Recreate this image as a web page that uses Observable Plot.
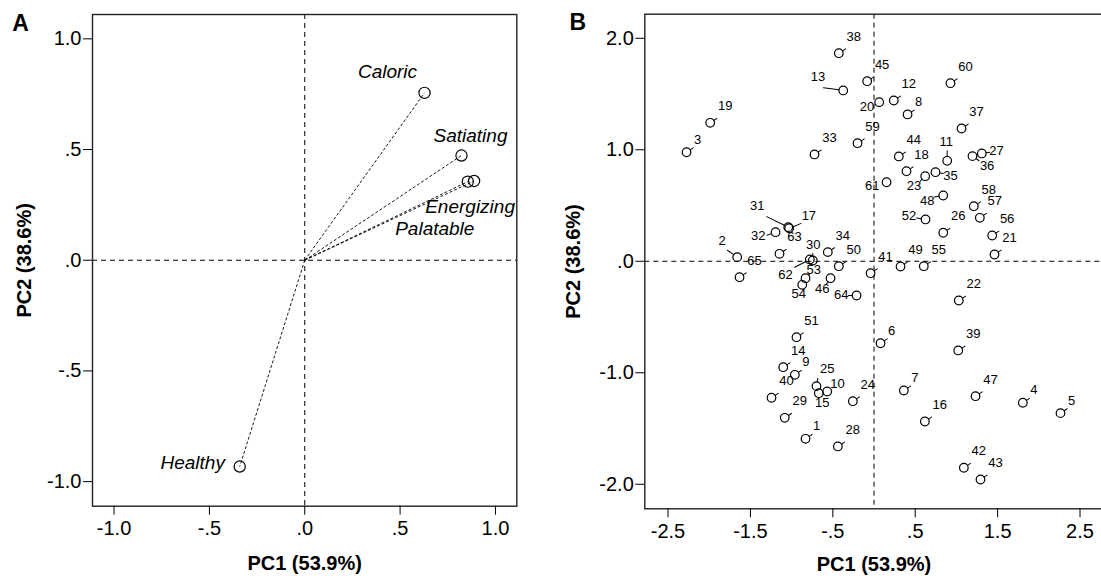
<!DOCTYPE html>
<html>
<head>
<meta charset="utf-8">
<script src="https://cdn.jsdelivr.net/npm/d3@7"></script>
<script src="https://cdn.jsdelivr.net/npm/@observablehq/plot@0.6"></script>
<style>
  html, body { margin: 0; padding: 0; background: #fff; overflow: hidden; }
  #wrap { position: relative; width: 1101px; height: 578px; overflow: hidden; }
  #panelA, #panelB { position: absolute; top: 0; }
  #panelA { left: 0; width: 540px; }
  #panelB { left: 550px; width: 560px; }
  #wrap svg { max-width: none !important; font-family: "Liberation Sans", Arial, Helvetica, sans-serif; }
</style>
</head>
<body>
<div id="wrap"><div id="panelA"></div><div id="panelB"></div></div>
<script>
// ---- Panel A: component loadings of the rated attributes ----
const attributes = ["Caloric", "Satiating", "Energizing", "Palatable", "Healthy"];
const loadingPC1 = [0.628, 0.822, 0.888, 0.855, -0.341];
const loadingPC2 = [0.756, 0.473, 0.358, 0.355, -0.932];

// ---- Panel B: component scores of the 65 foods ----
const foodIds = [
  1, 2, 3, 4, 5, 6, 7, 8, 9, 10, 11, 12, 13, 14, 15, 16, 17, 18, 19, 20,
  21, 22, 23, 24, 25, 26, 27, 28, 29, 30, 31, 32, 33, 34, 35, 36, 37, 38, 39, 40,
  41, 42, 43, 44, 45, 46, 47, 48, 49, 50, 51, 52, 53, 54, 55, 56, 57, 58, 59, 60,
  61, 62, 63, 64, 65
];
const scorePC1 = [
  -0.831, -1.660, -2.275, 1.806, 2.263, 0.079, 0.362, 0.407, -0.961, -0.568,
  0.888, 0.240, -0.374, -1.102, -0.670, 0.617, -1.030, 0.394, -1.988, 0.063,
  1.462, 1.029, 0.621, -0.257, -0.698, 0.840, 1.308, -0.439, -1.083, -0.743,
  -1.041, -1.195, -0.722, -0.561, 0.746, 1.195, 1.062, -0.427, 1.022, -1.244,
  -0.042, 1.090, 1.292, 0.301, -0.083, -0.528, 1.232, 0.840, 0.322, -0.427,
  -0.941, 0.625, -0.831, -0.871, 0.604, 1.434, 1.284, 1.211, -0.200, 0.928,
  0.152, -0.779, -1.147, -0.212, -1.632
];
const scorePC2 = [
  -1.592, 0.037, 0.978, -1.269, -1.362, -0.735, -1.159, 1.317, -1.018, -1.168,
  0.901, 1.442, 1.532, -0.950, -1.183, -1.437, 0.296, 0.808, 1.242, 1.427,
  0.061, -0.352, 0.763, -1.255, -1.120, 0.256, 0.967, -1.661, -1.404, 0.007,
  0.306, 0.261, 0.958, 0.082, 0.799, 0.943, 1.191, 1.866, -0.800, -1.224,
  -0.107, -1.852, -1.957, 0.940, 1.615, -0.152, -1.210, 0.590, -0.047, -0.044,
  -0.681, 0.375, -0.152, -0.211, -0.044, 0.231, 0.390, 0.494, 1.059, 1.597,
  0.709, 0.016, 0.067, -0.307, -0.143
];

// ---- Axis text ----
const titleX = "PC1 (53.9%)";
const titleY = "PC2 (38.6%)";
const ticksA = [-1, -0.5, 0, 0.5, 1];
const ticksBx = [-2.5, -1.5, -0.5, 0.5, 1.5, 2.5];
const ticksBy = [-2, -1, 0, 1, 2];

// SPSS-style numbers: one decimal, no leading zero ("-.5", ".0")
const fmt = d => d.toFixed(1).replace(/^(-?)0\./, "$1.");

const FONT = '"Liberation Sans", Arial, Helvetica, sans-serif';
const INK = "#000";

// ---------------- Panel A ----------------
const loadings = attributes.map((name, i) => ({name, pc1: loadingPC1[i], pc2: loadingPC2[i]}));

// where each attribute name sits relative to its loading point (px)
const nameOffset = {
  Caloric: [-37, -21],
  Satiating: [9, -20],
  Energizing: [-4, 26],
  Palatable: [-33, 47],
  Healthy: [-47, -4]
};

const commonAxis = {fontSize: 20, tickSize: 9, stroke: INK, fill: INK};

const plotA = Plot.plot({
  width: 540,
  height: 578,
  marginLeft: 92,
  marginRight: 23.7,
  marginTop: 14,
  marginBottom: 72.3,
  x: {domain: [-1.113, 1.112]},
  y: {domain: [-1.111, 1.110]},
  style: {fontFamily: FONT, background: "white", color: INK, overflow: "visible", maxWidth: "none"},
  marks: [
    Plot.ruleX([0], {stroke: INK, strokeWidth: 1, strokeDasharray: "5,4"}),
    Plot.ruleY([0], {stroke: INK, strokeWidth: 1, strokeDasharray: "5,4"}),
    Plot.link(loadings, {x1: 0, y1: 0, x2: "pc1", y2: "pc2", stroke: INK, strokeWidth: 0.9, strokeDasharray: "3,2"}),
    Plot.dot(loadings, {x: "pc1", y: "pc2", r: 5.6, stroke: INK, strokeWidth: 1.2, fill: "none"}),
    ...loadings.map(d => Plot.text([d], {
      x: "pc1", y: "pc2", text: "name",
      dx: nameOffset[d.name][0], dy: nameOffset[d.name][1],
      textAnchor: "middle", lineAnchor: "middle",
      fontSize: 19, fontStyle: "italic", fill: INK
    })),
    Plot.frame({stroke: "#222", strokeWidth: 1.4}),
    Plot.axisX(ticksA, {...commonAxis, tickFormat: fmt, tickPadding: 6, label: null}),
    Plot.axisY(ticksA, {...commonAxis, tickFormat: fmt, tickPadding: 2, label: null}),
    Plot.text([titleX], {frameAnchor: "bottom", dy: 57.6, textAnchor: "middle", lineAnchor: "middle", fontSize: 20, fontWeight: "bold", fill: INK}),
    Plot.text([titleY], {frameAnchor: "left", dx: -68, rotate: -90, textAnchor: "middle", lineAnchor: "middle", fontSize: 20, fontWeight: "bold", fill: INK}),
    Plot.text(["A"], {frameAnchor: "top-left", dx: -72, dy: 9, textAnchor: "middle", lineAnchor: "middle", fontSize: 23, fontWeight: "bold", fill: INK})
  ]
});
document.getElementById("panelA").append(plotA);

// ---------------- Panel B ----------------
const foods = foodIds.map((id, i) => ({id: String(id), pc1: scorePC1[i], pc2: scorePC2[i]}));

// label placement: text anchor, offset (px), and the little leader line
// (rot in degrees clockwise from up, len in px from the point centre)
const placements = {
  ne:   {anchor: "start",  dx: 7.7,  dy: -16.7, rot: 57,  len: 8},
  ne1:  {anchor: "start",  dx: 7.5,  dy: -12.7, rot: 57,  len: 8},
  nw2:  {anchor: "end",    dx: -11.4, dy: -16.7, rot: 305, len: 12},
  w13:  {anchor: "end",    dx: -18,  dy: -14,   rot: 278, len: 20},
  w31:  {anchor: "end",    dx: -23.7, dy: -21.7, rot: 296, len: 24},
  e17:  {anchor: "start",  dx: 12.5, dy: -12.5, rot: 68,  len: 13},
  w:    {anchor: "end",    dx: -5,   dy: 4.3,   rot: 0,   len: 0},
  w61:  {anchor: "end",    dx: -7,   dy: 3.3,   rot: 0,   len: 0},
  sw23: {anchor: "end",    dx: -4,   dy: 9.3,   rot: 225, len: 7},
  w48:  {anchor: "end",    dx: -8.7, dy: 5.7,   rot: 260, len: 9},
  w52:  {anchor: "end",    dx: -9.4, dy: -4,    rot: 280, len: 9},
  w64:  {anchor: "end",    dx: -8,   dy: -1,    rot: 270, len: 8},
  e35:  {anchor: "start",  dx: 7.7,  dy: 3.3,   rot: 100, len: 8},
  e27:  {anchor: "start",  dx: 7.4,  dy: -2.3,  rot: 82,  len: 8},
  se36: {anchor: "start",  dx: 7.4,  dy: 9.3,   rot: 125, len: 8},
  n11:  {anchor: "middle", dx: -1,   dy: -19.3, rot: 0,   len: 10},
  w32:  {anchor: "end",    dx: -10,  dy: 3.3,   rot: 250, len: 9},
  n30:  {anchor: "middle", dx: 0.4,  dy: -15.7, rot: 0,   len: 7},
  sw62: {anchor: "end",    dx: -17,  dy: 15,    rot: 243, len: 17},
  ne53: {anchor: "start",  dx: 1,    dy: -8.4,  rot: 45,  len: 6},
  s54:  {anchor: "middle", dx: -3.4, dy: 9,     rot: 0,   len: 0},
  sw46: {anchor: "end",    dx: -1,   dy: 10.6,  rot: 215, len: 7},
  e10:  {anchor: "start",  dx: 3,    dy: -7.7,  rot: 0,   len: 0},
  n25:  {anchor: "start",  dx: 3.4,  dy: -17.4, rot: 10,  len: 8},
  s15:  {anchor: "middle", dx: 3.4,  dy: 10,    rot: 0,   len: 0}
};
const labelPlacement = {
  2: "nw2", 13: "w13", 31: "w31", 17: "e17", 20: "w", 61: "w61", 23: "sw23",
  48: "w48", 52: "w52", 64: "w64", 35: "e35", 27: "e27", 36: "se36", 11: "n11",
  32: "w32", 30: "n30", 62: "sw62", 53: "ne53", 54: "s54", 46: "sw46",
  10: "e10", 25: "n25", 15: "s15"
};
const placementOf = d => labelPlacement[d.id] ?? (d.id.length === 1 ? "ne1" : "ne");

const DOT_R = 4.3;
// a plain line starting at the circle's edge
const leader = {
  draw(context, l) {
    context.moveTo(0, -DOT_R);
    context.lineTo(0, -l);
  }
};

const labelMarks = [];
for (const [code, p] of Object.entries(placements)) {
  const subset = foods.filter(d => placementOf(d) === code);
  if (!subset.length) continue;
  if (p.len > DOT_R) {
    labelMarks.push(Plot.vector(subset, {
      x: "pc1", y: "pc2", length: p.len, rotate: p.rot, anchor: "start",
      shape: leader, stroke: INK, strokeWidth: 1
    }));
  }
  labelMarks.push(Plot.text(subset, {
    x: "pc1", y: "pc2", text: "id",
    dx: p.dx, dy: p.dy, textAnchor: p.anchor, lineAnchor: "middle",
    fontSize: 13, fill: INK
  }));
}

const plotB = Plot.plot({
  width: 560,
  height: 578,
  marginLeft: 94.3,
  marginRight: 7.4,
  marginTop: 13.7,
  marginBottom: 69.7,
  x: {domain: [-2.7816, 2.780]},
  y: {domain: [-2.220, 2.216]},
  style: {fontFamily: FONT, background: "white", color: INK, overflow: "visible", maxWidth: "none"},
  marks: [
    Plot.ruleX([0], {stroke: INK, strokeWidth: 1, strokeDasharray: "5,4"}),
    Plot.ruleY([0], {stroke: INK, strokeWidth: 1, strokeDasharray: "5,4"}),
    ...labelMarks,
    Plot.dot(foods, {x: "pc1", y: "pc2", r: DOT_R, stroke: INK, strokeWidth: 1.2, fill: "none"}),
    Plot.frame({stroke: "#222", strokeWidth: 1.4}),
    Plot.axisX(ticksBx, {...commonAxis, tickFormat: fmt, tickPadding: 6, label: null}),
    Plot.axisY(ticksBy, {...commonAxis, tickFormat: fmt, tickPadding: 2, label: null}),
    Plot.text([titleX], {frameAnchor: "bottom", dy: 55.7, textAnchor: "middle", lineAnchor: "middle", fontSize: 20, fontWeight: "bold", fill: INK}),
    Plot.text([titleY], {frameAnchor: "left", dx: -71, rotate: -90, textAnchor: "middle", lineAnchor: "middle", fontSize: 20, fontWeight: "bold", fill: INK}),
    Plot.text(["B"], {frameAnchor: "top-left", dx: -67, dy: 8.3, textAnchor: "middle", lineAnchor: "middle", fontSize: 23, fontWeight: "bold", fill: INK})
  ]
});
document.getElementById("panelB").append(plotB);
</script>
</body>
</html>
